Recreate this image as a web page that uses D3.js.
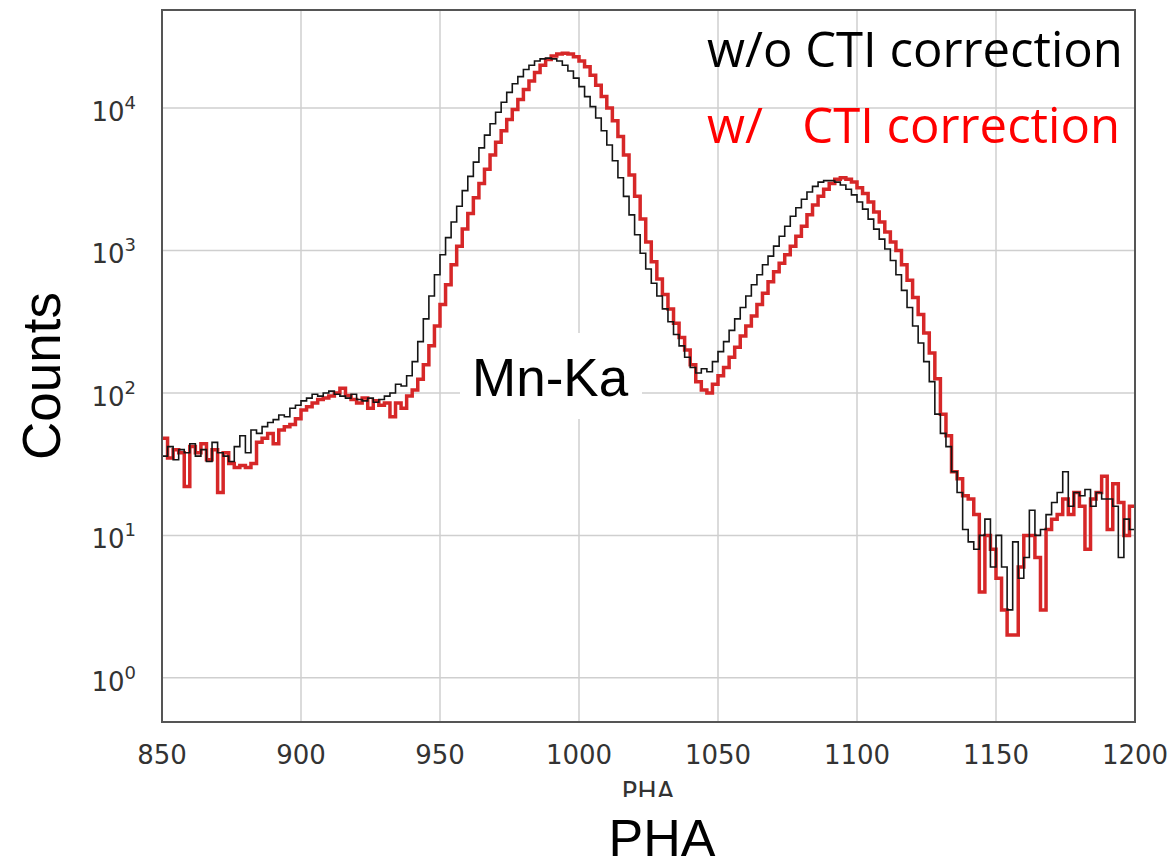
<!DOCTYPE html>
<html>
<head>
<meta charset="utf-8">
<script src="https://cdn.jsdelivr.net/npm/d3@7"></script>
<style>
  html, body { margin: 0; padding: 0; background: #fff; }
  svg { display: block; }
</style>
</head>
<body>
<svg id="chart" width="1171" height="866"></svg>
<script>
// ---- data ----
const binStart = 850;      // first PHA bin edge
const binWidth = 2;        // PHA per bin
const xTicks = [850, 900, 950, 1000, 1050, 1100, 1150, 1200];
const yTicks = [1, 10, 100, 1000, 10000];
const seriesNames = ["w/o CTI correction", "w/   CTI correction"];

// counts without CTI correction (black)
const countsWithout = [
  36, 42, 34, 40, 38, 44, 36, 40, 33, 45, 38, 36, 33, 42, 50, 38, 55, 52, 58, 62,
  65, 70, 68, 78, 82, 88, 92, 98, 95, 100, 103, 98, 95, 92, 98, 90, 88, 92, 86, 90,
  95, 100, 115, 112, 132, 166, 229, 331, 479, 676, 933, 1230, 1585, 2042, 2630, 3311, 4169, 5248, 6457, 7762,
  9333, 10965, 12882, 14791, 16596, 18621, 19953, 21380, 22131, 22387, 22131, 21380, 19953, 18197, 16218, 14125, 12023, 10233, 8511, 6918,
  5495, 4266, 3236, 2399, 1778, 1288, 955, 741, 589, 479, 389, 316, 257, 214, 178, 151, 138, 148, 141, 166,
  195, 229, 275, 331, 398, 479, 575, 676, 794, 912, 1072, 1259, 1479, 1738, 1995, 2291, 2570, 2818, 3020, 3090,
  3090, 3020, 2884, 2692, 2455, 2188, 1950, 1660, 1413, 1202, 1023, 851, 676, 525, 398, 295, 224, 166, 120, 71,
  52, 42, 28, 20, 11, 9, 8, 10, 13, 6, 10, 6, 3, 9, 5, 7, 15, 10, 11, 14,
  17, 20, 28, 16, 20, 19, 21, 16, 20, 18, 18, 16, 7, 13, 11
];

// counts with CTI correction (red)
const countsWith = [
  48, 35, 40, 38, 22, 42, 38, 44, 34, 40, 20, 38, 32, 30, 31, 30, 32, 45, 48, 52,
  44, 55, 58, 60, 66, 76, 80, 85, 90, 92, 95, 100, 108, 96, 90, 85, 92, 78, 88, 82,
  85, 68, 85, 78, 95, 105, 125, 158, 214, 295, 417, 575, 794, 1072, 1413, 1820, 2344, 2951, 3715, 4677,
  5754, 6918, 8318, 9772, 11482, 13490, 15488, 17783, 19953, 21878, 23174, 23988, 24266, 23988, 22909, 21380, 19498, 16982, 14454, 12023,
  10000, 8128, 6310, 4677, 3388, 2399, 1660, 1148, 832, 631, 490, 389, 309, 245, 200, 158, 120, 105, 100, 115,
  132, 151, 178, 209, 251, 295, 347, 417, 501, 603, 708, 813, 933, 1072, 1259, 1479, 1778, 2089, 2399, 2692,
  2951, 3162, 3236, 3162, 3020, 2754, 2512, 2188, 1862, 1585, 1349, 1148, 1000, 794, 617, 468, 355, 263, 191, 126,
  71, 50, 28, 25, 19, 18, 14, 4, 10, 8, 5, 3, 2, 2, 6, 10, 10, 7, 3, 11,
  13, 14, 18, 14, 20, 16, 8, 18, 20, 26, 11, 23, 17, 10, 16
];

// ---- layout ----
const svg = d3.select("#chart");
const pL = 162, pR = 1135, pT = 10, pB = 722;

const x = d3.scaleLinear().domain([850, 1200]).range([pL, pR]);
const y = d3.scaleLog().domain([0.49, 48750]).range([pB, pT]);

// grid
const grid = svg.append("g");
grid.selectAll("line.vx").data(xTicks).join("line")
  .attr("x1", d => x(d)).attr("x2", d => x(d))
  .attr("y1", pT).attr("y2", pB)
  .attr("stroke", "#cfcfcf").attr("stroke-width", 1.5);
grid.selectAll("line.hy").data(yTicks).join("line")
  .attr("x1", pL).attr("x2", pR)
  .attr("y1", d => y(d)).attr("y2", d => y(d))
  .attr("stroke", "#cfcfcf").attr("stroke-width", 1.5);

// white box behind Mn-Ka label
svg.append("rect").attr("x", 460).attr("y", 333).attr("width", 182).attr("height", 86).attr("fill", "#fff");

// curves
svg.append("clipPath").attr("id", "clip").append("rect")
  .attr("x", pL).attr("y", pT).attr("width", pR - pL).attr("height", pB - pT);

function toPoints(arr) {
  const pts = arr.map((v, i) => [binStart + i * binWidth, v]);
  pts.push([binStart + arr.length * binWidth, arr[arr.length - 1]]);
  return pts;
}
const line = d3.line().x(d => x(d[0])).y(d => y(d[1])).curve(d3.curveStepAfter);

const curves = svg.append("g").attr("clip-path", "url(#clip)");
curves.append("path").datum(toPoints(countsWith))
  .attr("d", line).attr("fill", "none").attr("stroke", "#d62728")
  .attr("stroke-width", 3.5).attr("stroke-linejoin", "miter");
curves.append("path").datum(toPoints(countsWithout))
  .attr("d", line).attr("fill", "none").attr("stroke", "#151515")
  .attr("stroke-width", 1.6);

// frame
svg.append("rect").attr("x", pL).attr("y", pT).attr("width", pR - pL).attr("height", pB - pT)
  .attr("fill", "none").attr("stroke", "#555").attr("stroke-width", 2);

// x tick labels
svg.append("g").selectAll("text").data(xTicks).join("text")
  .attr("x", d => x(d)).attr("y", 764)
  .attr("text-anchor", "middle")
  .attr("font-family", "DejaVu Sans").attr("font-size", 26).attr("fill", "#333")
  .text(d => d);

// y tick labels (10^n)
const yl = svg.append("g").selectAll("text").data(yTicks).join("text")
  .attr("x", 136).attr("y", d => y(d) + 13)
  .attr("text-anchor", "end")
  .attr("font-family", "DejaVu Sans").attr("font-size", 26).attr("fill", "#333");
yl.append("tspan").text("10");
yl.append("tspan").attr("dy", -12).attr("font-size", 18).text(d => Math.round(Math.log10(d)));

// small original x label (partly hidden)
svg.append("text").attr("x", 648).attr("y", 801).attr("text-anchor", "middle")
  .attr("font-family", "DejaVu Sans").attr("font-size", 26).attr("fill", "#333").text("PHA");
svg.append("rect").attr("x", 0).attr("y", 797).attr("width", 1171).attr("height", 69).attr("fill", "#fff");

// big axis titles
svg.append("text").attr("x", 662).attr("y", 856).attr("text-anchor", "middle")
  .attr("font-family", "Liberation Sans, Arial").attr("font-size", 52).attr("fill", "#000").text("PHA");
svg.append("text").attr("transform", "translate(60,376) rotate(-90)").attr("text-anchor", "middle")
  .attr("font-family", "Liberation Sans, Arial").attr("font-size", 53).attr("fill", "#000").text("Counts");

// Mn-Ka label
svg.append("text").attr("x", 472).attr("y", 396)
  .attr("font-family", "Liberation Sans, Arial").attr("font-size", 53).attr("fill", "#000").text("Mn-Ka");

// legend texts
const legFont = "Open Sans";
const t1 = svg.append("text").attr("x", 707).attr("y", 67)
  .attr("font-family", legFont).attr("font-size", 44).attr("fill", "#000").text(seriesNames[0]);
const w1 = t1.node().getComputedTextLength();
const fs = 44 * (1123 - 707) / w1;
t1.attr("font-size", fs);
const parts = seriesNames[1].split(/\s+/);
svg.append("text").attr("x", 707).attr("y", 143)
  .attr("font-family", legFont).attr("font-size", fs).attr("fill", "#f00").text(parts[0]);
svg.append("text").attr("x", 1120).attr("y", 143).attr("text-anchor", "end")
  .attr("font-family", legFont).attr("font-size", fs).attr("fill", "#f00").text(parts.slice(1).join(" "));
</script>
</body>
</html>
